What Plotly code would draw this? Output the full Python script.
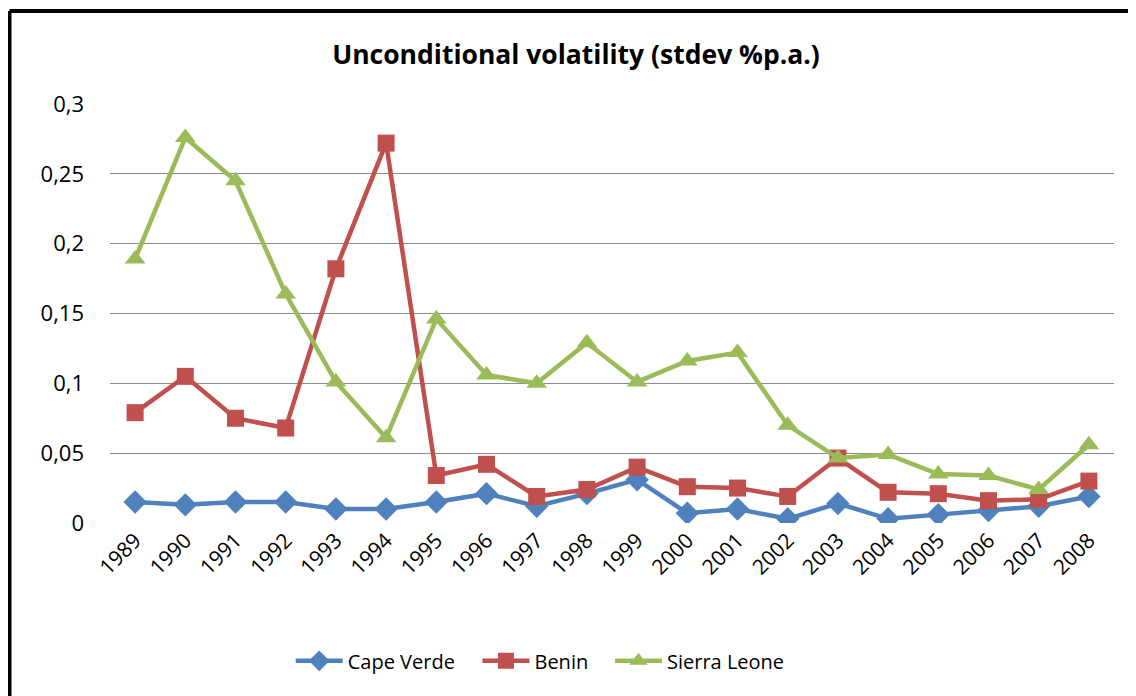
import plotly.graph_objects as go

years = [str(y) for y in range(1989, 2009)]
cape_verde = [0.015, 0.013, 0.015, 0.015, 0.010, 0.010, 0.015, 0.021, 0.012, 0.021,
              0.031, 0.007, 0.010, 0.003, 0.014, 0.003, 0.006, 0.009, 0.012, 0.019]
benin = [0.079, 0.105, 0.075, 0.068, 0.182, 0.272, 0.034, 0.042, 0.019, 0.024,
         0.040, 0.026, 0.025, 0.019, 0.0465, 0.022, 0.021, 0.016, 0.017, 0.030]
sierra_leone = [0.189, 0.276, 0.245, 0.164, 0.101, 0.061, 0.146, 0.106, 0.100, 0.129,
                0.101, 0.116, 0.122, 0.070, 0.0465, 0.049, 0.035, 0.034, 0.024, 0.056]
y_ticks = [0, 0.05, 0.1, 0.15, 0.2, 0.25, 0.3]
y_tick_labels = ["0", "0,05", "0,1", "0,15", "0,2", "0,25", "0,3"]

FONT = "Open Sans"
fig = go.Figure()
fig.add_trace(go.Scatter(x=years, y=cape_verde, name="Cape Verde", mode="lines+markers",
                         line=dict(color="#4F81BD", width=4.5), legend="legend",
                         marker=dict(symbol="diamond", size=18, color="#4F81BD")))
fig.add_trace(go.Scatter(x=years, y=benin, name="Benin", mode="lines+markers",
                         line=dict(color="#C0504D", width=4.5), legend="legend2",
                         marker=dict(symbol="square", size=17, color="#C0504D")))
fig.add_trace(go.Scatter(x=years, y=sierra_leone, name="Sierra Leone", mode="lines+markers",
                         line=dict(color="#9BBB59", width=4.5), legend="legend3",
                         marker=dict(symbol="triangle-up", size=18, color="#9BBB59")))

leg = dict(orientation="h", xanchor="left", y=-0.329, yanchor="middle",
           font=dict(size=20), itemwidth=47, bgcolor="rgba(0,0,0,0)")

fig.update_layout(
    width=1136, height=696,
    margin=dict(l=102, r=30, t=96, b=181),
    paper_bgcolor="white", plot_bgcolor="white",
    font=dict(family=FONT, size=21, color="black"),
    title=dict(text="<b>Unconditional volatility (stdev %p.a.)</b>", x=0.5, xanchor="center",
               y=0.9325, yanchor="middle", font=dict(size=26.5, family=FONT)),
    showlegend=True,
    legend=dict(leg, x=0.180),
    legend2=dict(leg, x=0.366),
    legend3=dict(leg, x=0.498),
    xaxis=dict(type="category", tickangle=-45, showgrid=False, showline=False,
               range=[-0.5, 19.5], ticks="", tickfont=dict(size=21), zeroline=False),
    yaxis=dict(range=[0, 0.3], tickvals=y_ticks, ticktext=y_tick_labels,
               showgrid=True, gridcolor="#8C8C8C", gridwidth=1, showline=False,
               zeroline=False, ticks="", tickfont=dict(size=22), ticklabelstandoff=25),
    shapes=[
        dict(type="line", xref="paper", yref="paper", x0=-0.1001, x1=1.04, y0=1.222, y1=1.222,
             line=dict(color="black", width=4)),
        dict(type="line", xref="paper", yref="paper", x0=-0.1001, x1=-0.1001, y0=1.222, y1=-0.45,
             line=dict(color="black", width=4)),
    ],
)

fig.write_html("out.html")
